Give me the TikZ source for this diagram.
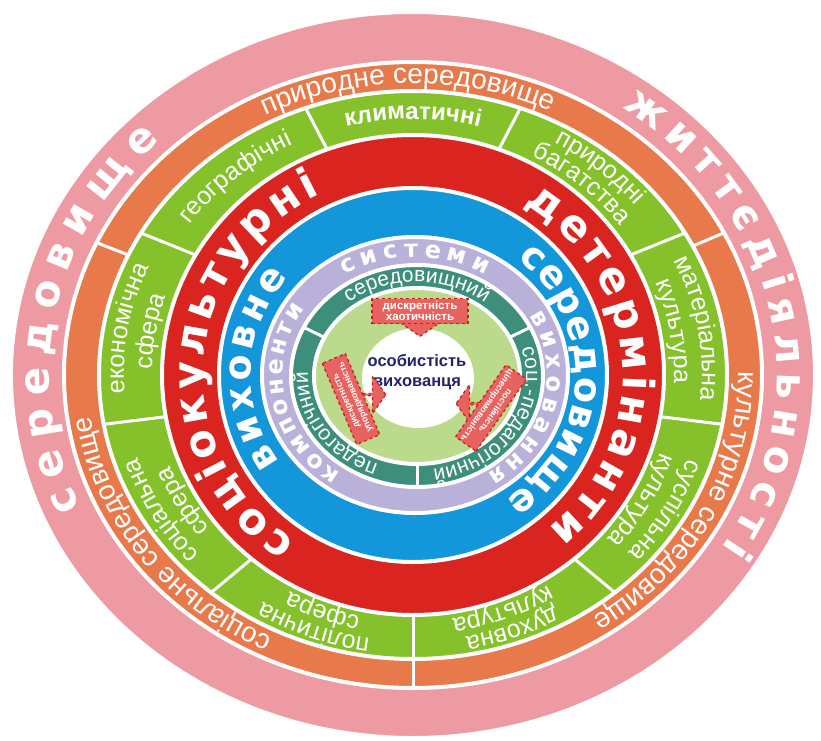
\documentclass[tikz,border=0pt]{standalone}
\usepackage{fontspec}
\setmainfont{Liberation Sans}
\newfontfamily\decofont{DejaVu Sans}
\usepackage{tikz}
\usetikzlibrary{decorations.text, shapes.arrows}

\definecolor{lifepink}{HTML}{EE9AA3}
\definecolor{envorange}{HTML}{E8794A}
\definecolor{cellgreen}{HTML}{84C12B}
\definecolor{detred}{HTML}{D92420}
\definecolor{edublue}{HTML}{1496DB}
\definecolor{syslilac}{HTML}{B9B1D9}
\definecolor{compteal}{HTML}{3D8F7B}
\definecolor{innergreen}{HTML}{BCDA8C}
\definecolor{pupilnavy}{HTML}{25216A}
\definecolor{boxred}{HTML}{E8625F}
\definecolor{boxborder}{HTML}{C41F1D}

\tikzstyle{ring}=[draw=white, line width=4pt]
\tikzstyle{divider}=[white, line width=3pt]
\tikzstyle{bigtext}=[decorate, decoration={text along path, text color=white, text align=fit to path}]
\tikzstyle{celltext}=[decorate, decoration={text along path, text color=white, text align=center}]
\tikzstyle{factorbox}=[draw=boxborder, dashed, line width=1.2pt, fill=boxred, text=white, align=center, inner sep=1.5pt, font=\bfseries\fontsize{9}{10}\selectfont]
\tikzstyle{factorarrow}=[single arrow, draw=boxborder, dashed, line width=1.2pt, fill=boxred, single arrow head extend=10pt, single arrow tip angle=110, minimum width=38pt, inner sep=0pt]
\newcommand{\factorbox}{\node[factorbox]}
\newcommand{\factorarrow}{\node[factorarrow]}

\newcommand{\pinkfont}{\decofont\bfseries\fontsize{42}{42}\selectfont}
\newcommand{\redfont}{\decofont\bfseries\fontsize{43}{43}\selectfont}
\newcommand{\bluefont}{\decofont\bfseries\fontsize{38}{38}\selectfont}
\newcommand{\lilacfont}{\decofont\bfseries\fontsize{24}{24}\selectfont}
\newcommand{\orangefont}{\fontsize{28}{28}\selectfont}
\newcommand{\cellfont}{\fontsize{25}{25}\selectfont}
\newcommand{\cellboldfont}{\bfseries\fontsize{24}{24}\selectfont}
\newcommand{\tealfont}{\fontsize{21}{21}\selectfont}
% #1 style, #2 start angle, #3 end angle, #4 x radius, #5 y radius, #6 text
\newcommand{\arclabel}[6]{\path[#1, decoration={text={#6}}] (#2:#4 and #5) arc[start angle=#2, end angle=#3, x radius=#4, y radius=#5];}

\begin{document}
\begin{tikzpicture}[x=1pt, y=1pt]
\useasboundingbox (-413,-365) rectangle (408,375);

% rings, outside in
\draw[ring, fill=lifepink] (0,0) ellipse[x radius=402, y radius=363];
\draw[ring, fill=envorange] (0,0) ellipse[x radius=349, y radius=313];
\draw[ring, fill=cellgreen] (0,0) ellipse[x radius=314, y radius=284];
\draw[ring, fill=detred] (0,0) ellipse[x radius=251, y radius=240];
\draw[ring, fill=edublue] (0,0) ellipse[x radius=194, y radius=187];
\draw[ring, fill=syslilac] (2,0) ellipse[x radius=153, y radius=138];
\draw[ring, fill=compteal] (4,-1) ellipse[x radius=126, y radius=111];
\draw[ring, fill=innergreen] (4,-1) ellipse[x radius=103, y radius=88];
\fill[white] (5,-3) ellipse[x radius=56, y radius=50];

\foreach \a in {155,27,270}
    \draw[divider] (\a:314 and 284) -- (\a:349 and 313);
\foreach \a in {110,150,190,230,270,310,350,390,430}
    \draw[divider] (\a:251 and 240) -- (\a:314 and 284);

% big words
\arclabel{bigtext}{204}{134}{364}{326.5}{|\pinkfont|середовище}
\arclabel{bigtext}{55}{-32}{364}{326.5}{|\pinkfont|життєдіяльності}
\arclabel{bigtext}{236}{116}{210}{201}{|\redfont|соціокультурні}
\arclabel{bigtext}{58}{-50}{210}{201}{|\redfont|детермінанти}
\arclabel{bigtext}{215}{140}{162.5}{152}{|\bluefont|виховне}
\arclabel{bigtext}{50}{-55}{162.5}{152}{|\bluefont|середовище}
\begin{scope}[shift={(2,0)}]
\arclabel{bigtext}{236}{146}{132.5}{118}{|\lilacfont|компоненти}
\arclabel{bigtext}{122}{58}{132.5}{118}{|\lilacfont|системи}
\arclabel{bigtext}{30}{-57}{132.5}{118}{|\lilacfont|виховання}
\end{scope}

% orange ring
\arclabel{celltext}{151}{31}{325}{291.5}{|\orangefont|природне середовище}
\arclabel{celltext}{23}{-77}{325}{291.5}{|\orangefont|культурне середовище}
\arclabel{celltext}{267}{163}{325}{291.5}{|\orangefont|соціальне середовище}

% green cells
\arclabel{celltext}{149}{111}{276.5}{256}{|\cellfont|географічні}
\arclabel{celltext}{109}{71}{276.5}{256}{|\cellboldfont|климатичні}
\arclabel{celltext}{69}{31}{289}{266}{|\cellfont|природні}
\arclabel{celltext}{69}{31}{261}{246}{|\cellfont|багатства}
\arclabel{celltext}{29}{-9}{289}{266}{|\cellfont|матеріальна}
\arclabel{celltext}{29}{-9}{261}{246}{|\cellfont|культура}
\arclabel{celltext}{-11}{-49}{289}{266}{|\cellfont|суспільна}
\arclabel{celltext}{-11}{-49}{261}{246}{|\cellfont|культура}
\arclabel{celltext}{-51}{-89}{289}{266}{|\cellfont|духовна}
\arclabel{celltext}{-51}{-89}{261}{246}{|\cellfont|культура}
\arclabel{celltext}{269}{231}{289}{266}{|\cellfont|політична}
\arclabel{celltext}{269}{231}{261}{246}{|\cellfont|сфера}
\arclabel{celltext}{229}{191}{289}{266}{|\cellfont|соціальна}
\arclabel{celltext}{229}{191}{261}{246}{|\cellfont|сфера}
\arclabel{celltext}{189}{151}{289}{266}{|\cellfont|економічна}
\arclabel{celltext}{189}{151}{261}{246}{|\cellfont|сфера}

% teal ring
\begin{scope}[shift={(4,-1)}]
\foreach \a in {154,26,270}
    \draw[divider] (\a:103 and 88) -- (\a:126 and 111);
\arclabel{celltext}{152}{28}{109}{94}{|\tealfont|середовищний}
\arclabel{celltext}{268}{156}{109}{94}{|\tealfont|педагогічний}
\arclabel{celltext}{24}{-88}{109}{94}{|\tealfont|соц.-педагогічний}
\end{scope}

% centre
\node[font=\bfseries\fontsize{16.5}{20}\selectfont, text=pupilnavy, align=center] (pupil) at (4,3) {особистість\\вихованця};

\factorarrow[shape border rotate=270, minimum height=22pt] (chaosarrow) at (7,50) {};
\factorbox[minimum width=96pt, minimum height=25pt, font=\bfseries\fontsize{11.5}{11.5}\selectfont] (chaos) at (7,64) {дискретність\\хаотичність};
\factorarrow[shape border rotate=15, minimum height=36pt] (orderarrow) at (-45.6,-19.6) {};
\factorbox[rotate=113, minimum width=88pt, minimum height=25pt] (order) at (-62,-24) {дискретність\\упорядкованість};
\factorarrow[shape border rotate=165, minimum height=36pt] (purposearrow) at (61.6,-28.6) {};
\factorbox[rotate=235, minimum width=88pt, minimum height=25pt] (purpose) at (78,-33) {постійність\\цілеспрямованість};
\end{tikzpicture}
\end{document}
